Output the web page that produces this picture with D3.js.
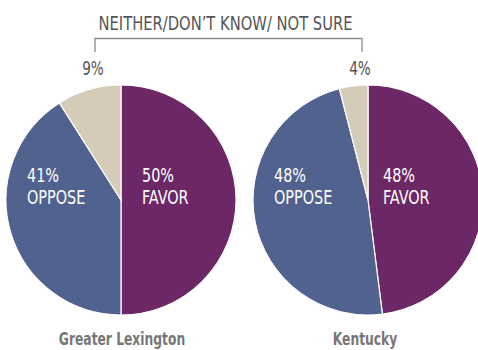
<!DOCTYPE html>
<html>
<head>
<meta charset="utf-8">
<script src="https://cdn.jsdelivr.net/npm/d3@7"></script>
<style>
  body { margin: 0; background: #fff; }
  svg { display: block; font-family: "DejaVu Sans Condensed", "Liberation Sans Narrow", sans-serif; }
</style>
</head>
<body>
<svg id="chart" width="478" height="350"></svg>
<script>
const regions = ['Greater Lexington', 'Kentucky'];
const answers = ['FAVOR', 'OPPOSE', 'NEITHER'];
const favorPct = [50, 48];
const opposePct = [41, 48];
const neitherPct = [9, 4];

const colors = d3.scaleOrdinal()
    .domain(answers)
    .range(['#6b2766', '#52628f', '#d4ccb8']);

const svg = d3.select('#chart');
const radius = 115;
const centerY = 200;
const xScale = d3.scalePoint()
    .domain(regions)
    .range([121, 368]);

// horizontal squeeze to mimic the condensed news font
const squeeze = 0.8;

function condensedText(parent, x, y, txt, opts) {
    const t = parent.append('text')
        .attr('transform', `translate(${x}, ${y}) scale(${opts.sx || squeeze}, 1)`)
        .attr('text-anchor', opts.anchor || 'start')
        .attr('font-size', opts.size)
        .attr('fill', opts.fill)
        .text(txt);
    if (opts.weight) {
        t.attr('font-weight', opts.weight);
    }
    return t;
}

const pie = d3.pie().sort(null).value(d => d.value);
const arc = d3.arc().innerRadius(0).outerRadius(radius);
const favorOffset = [21, 15];

regions.forEach((region, i) => {
    const data = [
        {key: 'FAVOR', value: favorPct[i]},
        {key: 'OPPOSE', value: opposePct[i]},
        {key: 'NEITHER', value: neitherPct[i]}
    ];
    const g = svg.append('g')
        .attr('transform', `translate(${xScale(region)}, ${centerY})`);

    g.selectAll('path')
        .data(pie(data))
        .enter()
        .append('path')
        .attr('d', arc)
        .attr('fill', d => colors(d.data.key))
        .attr('stroke', '#fff')
        .attr('stroke-width', 1.2);

    const inner = {size: 20, fill: '#fff'};
    condensedText(g, favorOffset[i], -18, `${favorPct[i]}%`, inner);
    condensedText(g, favorOffset[i], 4, 'FAVOR', inner);
    condensedText(g, -94, -18, `${opposePct[i]}%`, inner);
    condensedText(g, -94, 4, 'OPPOSE', inner);

    condensedText(svg, xScale(region) + (i === 0 ? 1 : -3), 345, region,
        {size: 18, fill: '#777', weight: 'bold', anchor: 'middle', sx: 0.76});
});

// neither labels and bracket
const neitherX = [95, 362];
neitherX.forEach((x, i) => {
    condensedText(svg, x - 2, 75, `${neitherPct[i]}%`,
        {size: 19, fill: '#555', anchor: 'middle'});
});

svg.append('path')
    .attr('d', `M${neitherX[0]},52V38.5H${neitherX[1]}V52`)
    .attr('fill', 'none')
    .attr('stroke', '#8a8a8a')
    .attr('stroke-width', 1.3);

condensedText(svg, (neitherX[0] + neitherX[1]) / 2 - 3, 30,
    'NEITHER/DON\u2019T KNOW/ NOT SURE',
    {size: 20, fill: '#555', anchor: 'middle', sx: 0.82});
</script>
</body>
</html>
